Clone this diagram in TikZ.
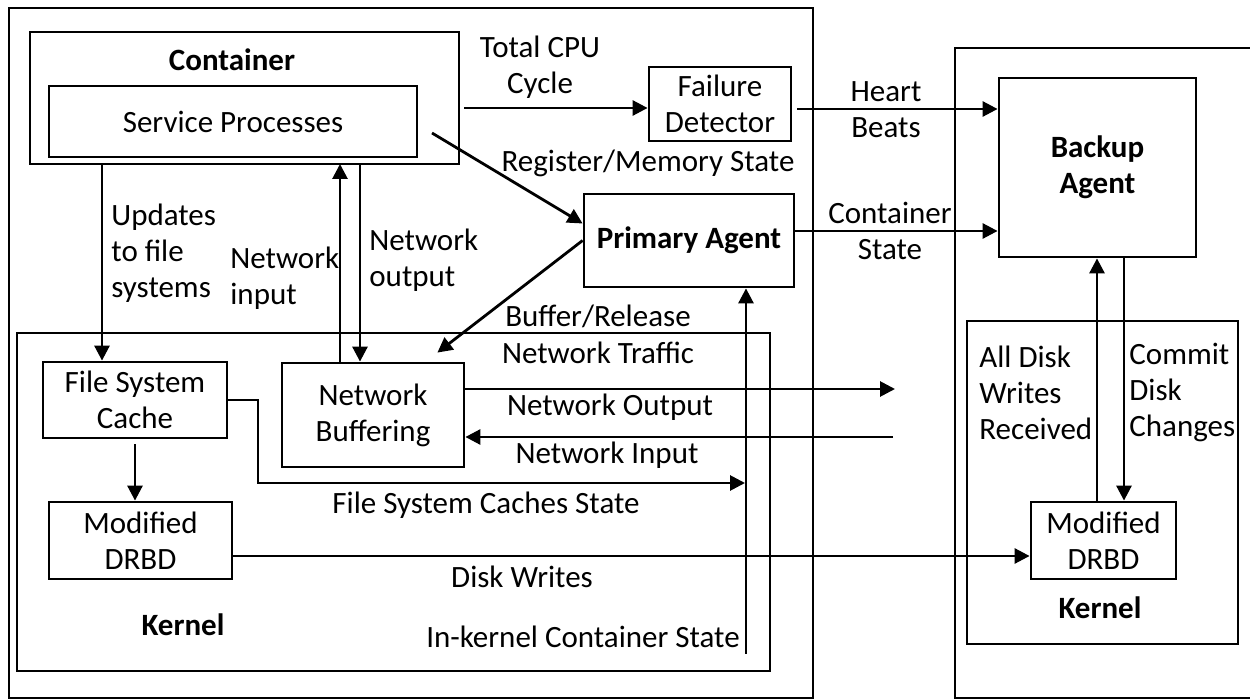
\documentclass[tikz,border=0pt]{standalone}
\usepackage{fontspec}
\setmainfont{Carlito}
\usetikzlibrary{arrows.meta}

\tikzset{
  box/.style={draw, line width=1.4pt, inner sep=0pt, align=center},
  frame/.style={draw, line width=1.4pt, inner sep=0pt},
  lbl/.style={inner sep=0pt, align=center},
  strong/.style={font=\fontsize{15.5}{18}\selectfont\bfseries},
  arr/.style={line width=1.4pt, -{Triangle[length=7.5pt,width=7.5pt]}},
}

\begin{document}
\begin{tikzpicture}[x=0.5pt, y=-0.5pt, font=\fontsize{15.5}{18}\selectfont]
        \useasboundingbox (0,0) rectangle (1250,700);

        % Frames
        \node[frame, minimum width=402pt, minimum height=345pt] (primary) at (411,353) {};
        \draw[line width=1.4pt] (1252,48) -| (955,698) -- (1252,698);
        \node[frame, minimum width=214.5pt, minimum height=66pt] (container) at (244.5,98) {};
        \node[frame, minimum width=376.5pt, minimum height=169pt] (kernel) at (393.5,502) {};
        \node[frame, minimum width=135.5pt, minimum height=161.5pt] (rkernel) at (1102.5,482.5) {};

        % Boxes
        \node[box, minimum width=184pt, minimum height=35.5pt] (sp) at (233,121.5) {Service Processes};
        \node[box, minimum width=71pt, minimum height=37pt] (fd) at (720,104) {Failure\\Detector};
        \node[box, strong, minimum width=105pt, minimum height=46.5pt] (pa) at (689,240.5) {Primary Agent};
        \node[box, strong, minimum width=98.5pt, minimum height=89.5pt] (ba) at (1097.5,167.5) {Backup\\Agent};
        \node[box, minimum width=92pt, minimum height=38pt] (fsc) at (135,400) {File System\\Cache};
        \node[box, minimum width=91pt, minimum height=52pt] (nbuf) at (373,415) {Network\\Buffering};
        \node[box, minimum width=91.5pt, minimum height=38.5pt] (drbd) at (140.5,540.5) {Modified\\DRBD};
        \node[box, minimum width=72.5pt, minimum height=38.5pt] (rdrbd) at (1103.5,540.5) {Modified\\DRBD};

        % Frame labels
        \node[lbl, strong] (containerlbl) at (232,60) {Container};
        \node[lbl, strong] (kernellbl) at (183,625) {Kernel};
        \node[lbl, strong] (rkernellbl) at (1100,608) {Kernel};

        % Connector end points
        \coordinate (upd) at (102,164);
        \coordinate (nin) at (340,164);
        \coordinate (nout) at (360,164);
        \coordinate (cpu) at (464,108);
        \coordinate (reg) at (432,133);
        \coordinate (hb) at (797,109);
        \coordinate (cs) at (794,231);
        \coordinate (netout) at (895,389);
        \coordinate (netin) at (893,437);
        \coordinate (fsbend) at (258,483);
        \coordinate (fsend) at (745,483);
        \coordinate (dw) at (232,556);
        \coordinate (iks) at (746,654);
        \coordinate (adw) at (1097,502);
        \coordinate (cdc) at (1124,257);

        % Connectors
        \draw[arr] (upd) -- (upd |- fsc.north);
        \draw[arr] (nin |- nbuf.north) -- (nin);
        \draw[arr] (nout) -- (nout |- nbuf.north);
        \draw[arr] (cpu) -- (cpu -| fd.west);
        \draw[arr] (reg) -- ([yshift=8.5pt]pa.west);
        \draw[arr] (pa.west) -- ([xshift=-14pt,yshift=4.5pt]nbuf.north east);
        \draw[arr] (hb) -- (hb -| ba.west);
        \draw[arr] (cs) -- (cs -| ba.west);
        \draw[arr] (nbuf.east |- netout) -- (netout);
        \draw[arr] (netin) -- (netin -| nbuf.east);
        \draw[arr] (fsc.east) -- (fsc.east -| fsbend) -- (fsbend) -- (fsend);
        \draw[arr] ([yshift=-2.5pt]fsc.south) -- (fsc.south |- drbd.north);
        \draw[arr] (dw) -- (dw -| rdrbd.west);
        \draw[arr] (iks) -- (iks |- pa.south);
        \draw[arr] (adw) -- (adw |- ba.south);
        \draw[arr] (cdc) -- (cdc |- rdrbd.north);

        % Connector labels
        \node[lbl] (cpulbl) at (540,67) {Total CPU\\Cycle};
        \node[lbl] (reglbl) at (648,163) {Register/Memory State};
        \node[lbl] (hblbl) at (886,110) {Heart\\Beats};
        \node[lbl] (cslbl) at (890,231) {Container\\State};
        \node[lbl, align=left, anchor=west] (updlbl) at (111,253) {Updates\\to file\\systems};
        \node[lbl, align=left, anchor=west] (ninlbl) at (230,278) {Network\\input};
        \node[lbl, align=left, anchor=west] (noutlbl) at (369,260) {Network\\output};
        \node[lbl] (buflbl) at (598,316) {Buffer/Release};
        \node[lbl] (trafficlbl) at (598,353) {Network Traffic};
        \node[lbl] (netoutlbl) at (610,407) {Network Output};
        \node[lbl] (netinlbl) at (607,455) {Network Input};
        \node[lbl] (fslbl) at (486,505) {File System Caches State};
        \node[lbl] (dwlbl) at (522,577) {Disk Writes};
        \node[lbl] (ikslbl) at (583,637) {In-kernel Container State};
        \node[lbl, align=left, anchor=west] (adwlbl) at (979,393) {All Disk\\Writes\\Received};
        \node[lbl, align=left, anchor=west] (cdclbl) at (1129,393) {Commit\\Disk\\Changes};
\end{tikzpicture}
\end{document}
